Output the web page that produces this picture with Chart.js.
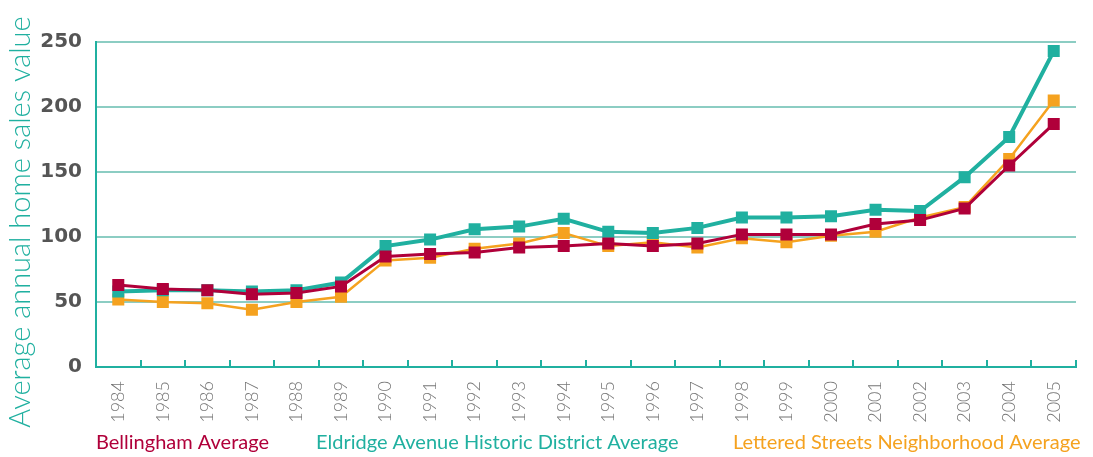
<!DOCTYPE html>
<html>
<head>
<meta charset="utf-8">
<script src="https://cdn.jsdelivr.net/npm/chart.js@4/dist/chart.umd.min.js"></script>
<style>
  html, body { margin: 0; padding: 0; background: #fff; }
  #wrap { width: 1093px; height: 457px; position: relative; }
</style>
</head>
<body>
<div id="wrap"><canvas id="salesChart"></canvas></div>
<script>
// Data (values in thousands)
const years = ['1984', '1985', '1986', '1987', '1988', '1989', '1990', '1991', '1992', '1993', '1994',
  '1995', '1996', '1997', '1998', '1999', '2000', '2001', '2002', '2003', '2004', '2005'];
const bellingham = [63, 60, 59, 56, 57, 62, 85, 87, 88, 92, 93, 95, 93, 95, 102, 102, 102, 110, 113, 122, 155, 187];
const eldridge = [58, 59, 59, 58, 59, 65, 93, 98, 106, 108, 114, 104, 103, 107, 115, 115, 116, 121, 120, 146, 177, 243];
const lettered = [52, 50, 49, 44, 50, 54, 82, 84, 91, 95, 103, 93, 96, 92, 99, 96, 101, 104, 115, 123, 160, 205];
const yTicks = [0, 50, 100, 150, 200, 250];
const yTitle = 'Average annual home sales value';

const RED = '#b0003a';
const TEAL = '#20b0a0';
const ORANGE = '#f5a21f';
const GRID = '#8ccdc3';

// small tick marks on the x axis, pointing up into the plot
const innerTicks = {
  id: 'innerTicks',
  afterDraw(chart) {
    const x = chart.scales.x;
    const ctx = chart.ctx;
    const n = years.length;
    const step = (x.right - x.left) / n;
    ctx.save();
    ctx.strokeStyle = TEAL;
    ctx.lineWidth = 2;
    for (let i = 1; i <= n; i++) {
      const px = Math.round(x.left + i * step);
      ctx.beginPath();
      ctx.moveTo(px, x.top);
      ctx.lineTo(px, x.top - 7);
      ctx.stroke();
    }
    ctx.restore();
  }
};

// rotated y title and plain coloured legend texts
const sideTexts = {
  id: 'sideTexts',
  afterDraw(chart) {
    const ctx = chart.ctx;
    ctx.save();
    // y axis title, stretched to the reference length
    ctx.font = '300 28px Lato';
    const size = 28 * 412 / ctx.measureText(yTitle).width;
    ctx.font = '300 ' + size.toFixed(1) + 'px Lato';
    ctx.fillStyle = TEAL;
    ctx.textAlign = 'center';
    ctx.textBaseline = 'middle';
    ctx.translate(21, 222);
    ctx.rotate(-Math.PI / 2);
    ctx.fillText(yTitle, 0, 0);
    ctx.restore();

    // legend
    const starts = [96, 316, 733];
    ctx.save();
    ctx.font = '400 20px Lato';
    ctx.textAlign = 'left';
    ctx.textBaseline = 'middle';
    chart.data.datasets.forEach((ds, i) => {
      ctx.fillStyle = ds.borderColor;
      ctx.fillText(ds.label, starts[i], 443);
    });
    ctx.restore();
  }
};

function makeSet(label, data, color, width, radius) {
  return {
    label: label,
    data: data,
    borderColor: color,
    backgroundColor: color,
    borderWidth: width,
    pointStyle: 'rect',
    pointRadius: radius,
    pointHoverRadius: radius,
    pointBorderWidth: 0,
    tension: 0
  };
}

const ctx = document.getElementById('salesChart').getContext('2d');
new Chart(ctx, {
  type: 'line',
  data: {
    labels: years,
    datasets: [
      makeSet('Bellingham Average', bellingham, RED, 3, 8.5),
      makeSet('Eldridge Avenue Historic District Average', eldridge, TEAL, 4, 8.5),
      makeSet('Lettered Streets Neighborhood Average', lettered, ORANGE, 2.5, 8.5)
    ]
  },
  plugins: [innerTicks, sideTexts],
  options: {
    responsive: true,
    maintainAspectRatio: false,
    animation: false,
    layout: { padding: { top: 42, right: 17, left: 0, bottom: 0 } },
    scales: {
      y: {
        min: 0,
        max: 250,
        afterBuildTicks(scale) {
          scale.ticks = yTicks.map(v => ({ value: v }));
        },
        afterFit(scale) { scale.width = 96; },
        ticks: {
          color: '#555',
          padding: 14,
          font: { family: 'DejaVu Sans', size: 20, weight: 'bold' }
        },
        grid: { color: GRID, lineWidth: 2, drawTicks: false },
        border: { color: TEAL, width: 2 }
      },
      x: {
        offset: true,
        afterFit(scale) { scale.height = 90; },
        ticks: {
          color: '#777',
          minRotation: 90,
          maxRotation: 90,
          autoSkip: false,
          padding: 6,
          font: { family: 'Lato', size: 18, weight: 300 }
        },
        grid: { display: false },
        border: { color: TEAL, width: 2 }
      }
    },
    plugins: {
      tooltip: { enabled: false },
      legend: { display: false }
    }
  }
});
</script>
</body>
</html>
